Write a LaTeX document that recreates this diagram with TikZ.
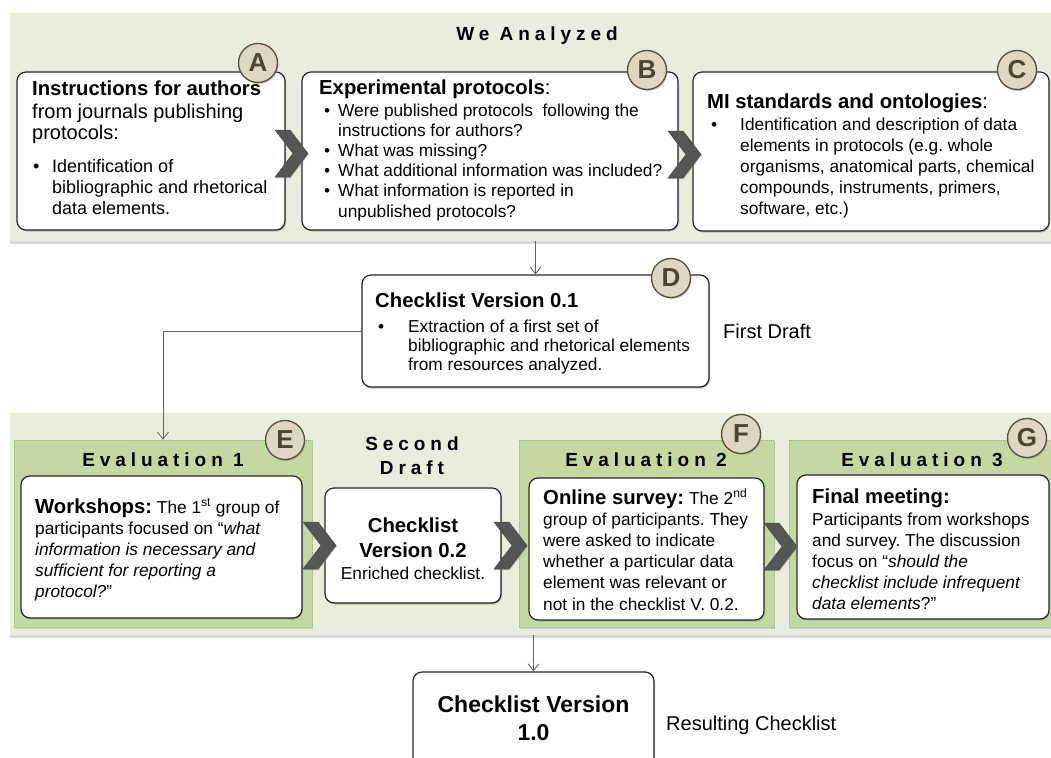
\documentclass[tikz,border=0pt]{standalone}
\usepackage{fontspec}
\setmainfont{Liberation Sans}
\newfontfamily\spacedfont[LetterSpace=26]{Liberation Sans}
\usetikzlibrary{arrows.meta,shadows,fit}
\definecolor{bandc}{RGB}{233,238,220}
\definecolor{panelc}{RGB}{198,216,161}
\definecolor{paneledge}{RGB}{150,175,115}
\definecolor{circfill}{RGB}{222,215,195}
\definecolor{circedge}{RGB}{85,80,62}
\definecolor{circtext}{RGB}{75,68,50}
\definecolor{chevc}{RGB}{85,85,85}
\definecolor{linec}{RGB}{95,95,95}
\newcommand\fs[2]{\fontsize{#1}{#2}\selectfont}
\newcommand\bul[2]{\makebox[#1][l]{\hspace*{#2}•}}
\frenchspacing
\begin{document}
\begin{tikzpicture}[x=1pt,y=-1pt,
  box/.style={draw=black!85, line width=1.2pt, fill=white, rounded corners=9pt, inner sep=0pt,
    drop shadow={shadow xshift=1pt,shadow yshift=-1.5pt,opacity=0.45}},
  bandbox/.style={fill=bandc, inner sep=0pt, draw=none,
    drop shadow={shadow xshift=0pt,shadow yshift=-3pt,opacity=0.3}},
  panel/.style={fill=panelc, inner sep=0pt, draw=paneledge, dash pattern=on 1pt off 1pt, line width=0.6pt,
    drop shadow={shadow xshift=1pt,shadow yshift=-1.5pt,opacity=0.25}},
  badge/.style={circle, fill=circfill, draw=circedge, line width=1.3pt, minimum size=39pt, inner sep=0pt,
    font=\fs{26}{26}\bfseries, text=circtext,
    drop shadow={shadow xshift=1pt,shadow yshift=-1.5pt,opacity=0.4}},
  chevron/.style={fill=chevc, draw=black!70, line width=0.5pt,
    drop shadow={shadow xshift=1pt,shadow yshift=-1pt,opacity=0.35}},
  txt/.style={anchor=base west, inner sep=0pt, align=left},
  ctxt/.style={anchor=base, inner sep=0pt, align=center},
  conn/.style={draw=linec, line width=0.8pt, -{Straight Barb[length=7pt,width=11pt]}},
  sectitle/.style={anchor=base, inner sep=0pt, font=\spacedfont\bfseries\fs{19}{24}, align=center},
  chev/.pic={\path[chevron] (0,0) -- (15,0) -- (33,23.5) -- (15,47) -- (0,47) -- (18,23.5) -- cycle;}
]
\useasboundingbox (0,0) rectangle (1051,757);
\fill[white] (0,0) rectangle (1051,757);

% ---------- bands ----------
\node[bandbox, fit={(10,13) (1060,241)}] (band1) {};
\node[bandbox, fit={(10,413) (1060,635)}] (band2) {};

\node[sectitle] (t1) at (537,41) {We Analyzed};

% ---------- top boxes ----------
\node[box, fit={(17,72) (285,230)}] (boxA) {};
\node[box, fit={(302,72) (678,230)}] (boxB) {};
\node[box, fit={(693,72) (1049,231)}] (boxC) {};

% multi-line text nodes are anchored at the baseline of their LAST line
\node[txt, font=\fs{20.3}{22}\bfseries] (hA) at (32,96) {Instructions for authors};
\node[txt, font=\fs{20}{21.5}] (sA) at (32,139.5) {from journals publishing\\protocols:};
\node[txt, font=\fs{18}{21}] (bA) at (32,214) {\bul{20pt}{1pt}Identification of\\\hspace*{20pt}bibliographic and rhetorical\\\hspace*{20pt}data elements.};

\node[txt, font=\fs{20.3}{22}] (hB) at (319,95) {\textbf{Experimental protocols}:};
\node[txt, font=\fs{17.3}{20.2}] (bB) at (319,217) {\bul{19pt}{5pt}Were published protocols\ \ following the\\\hspace*{19pt}instructions for authors?\\\bul{19pt}{5pt}What was missing?\\\bul{19pt}{5pt}What additional information was included?\\\bul{19pt}{5pt}What information is reported in\\\hspace*{19pt}unpublished protocols?};

\node[txt, font=\fs{20.3}{22}] (hC) at (707,109) {\textbf{MI standards and ontologies}:};
\node[txt, font=\fs{17.3}{21}] (bC) at (707,214) {\bul{33pt}{4pt}Identification and description of data\\\hspace*{33pt}elements in protocols (e.g. whole\\\hspace*{33pt}organisms, anatomical parts, chemical\\\hspace*{33pt}compounds, instruments, primers,\\\hspace*{33pt}software, etc.)};

\pic at (275,130) {chev};
\pic at (668,131) {chev};

\node[badge] (cA) at (258,63) {A};
\node[badge] (cB) at (647,70) {B};
\node[badge] (cC) at (1017,70) {C};

% ---------- first draft ----------
\node[box, fit={(362,275) (709,387)}] (boxD) {};
\node[txt, font=\fs{20.3}{22}\bfseries] (hD) at (375,307) {Checklist Version 0.1};
\node[txt, font=\fs{17.3}{19}] (bD) at (375,370) {\bul{33pt}{3pt}Extraction of a first set of\\\hspace*{33pt}bibliographic and rhetorical elements\\\hspace*{33pt}from resources analyzed.};
\node[badge] (cD) at (671,278) {D};
\node[txt, font=\fs{20}{22}] (fd) at (723,338) {First Draft};

% ---------- evaluation panels ----------
\node[panel, fit={(14,440) (312,627)}] (P1) {};
\node[panel, fit={(519,440) (774,627)}] (P2) {};
\node[panel, fit={(789,440) (1060,627)}] (P3) {};

\node[sectitle] (e1) at (163,466) {Evaluation 1};
\node[sectitle] (e2) at (646,466) {Evaluation 2};
\node[sectitle] (e3) at (922,466) {Evaluation 3};
\node[sectitle] (sd) at (412,474) {Second\\Draft};

\node[box, fit={(21,476) (302,618)}] (boxE) {};
\node[box, fit={(325,488) (501,603)}] (box02) {};
\node[box, fit={(529,478) (764,620)}] (boxF) {};
\node[box, fit={(797,475) (1049,619)}] (boxG) {};

\node[txt, font=\fs{17.3}{21}] (bE) at (35,597) {{\fs{20.3}{21}\bfseries Workshops:} The 1\textsuperscript{st} group of\\participants focused on “\textit{what}\\\textit{information is necessary and}\\\textit{sufficient for reporting a}\\\textit{protocol?}”};

\node[ctxt, font=\fs{20.3}{25}\bfseries] (h02) at (413,557) {Checklist\\Version 0.2};
\node[ctxt, font=\fs{17.3}{21}] (b02) at (413,579) {Enriched checklist.};

\node[txt, font=\fs{17.3}{21.2}] (bF) at (543,610) {{\fs{20.3}{21}\bfseries Online survey:} The 2\textsuperscript{nd}\\group of participants. They\\were asked to indicate\\whether a particular data\\element was relevant or\\not in the checklist V. 0.2.};

\node[txt, font=\fs{20.3}{22}\bfseries] (hG) at (812,503) {Final meeting:};
\node[txt, font=\fs{17.3}{21}] (bG) at (812,609) {Participants from workshops\\and survey. The discussion\\focus on “\textit{should the}\\\textit{checklist include infrequent}\\\textit{data elements}?”};

\pic at (303,522) {chev};
\pic at (494,522) {chev};
\pic at (764,523) {chev};

\node[badge] (cE) at (285,440) {E};
\node[badge] (cF) at (741,434) {F};
\node[badge] (cG) at (1027,438) {G};

% ---------- result ----------
\node[box, fit={(413,672) (654,790)}] (boxK) {};
\node[ctxt, font=\fs{23}{28}\bfseries] (hK) at (533.5,740) {Checklist Version\\1.0};
\node[txt, font=\fs{20}{22}] (rc) at (666,730) {Resulting Checklist};

% ---------- connectors ----------
\draw[conn] (boxD.north |- band1.south) -- (boxD.north);
\draw[conn] (boxD.west) -| (P1.north);
\draw[conn] (boxK.north |- band2.south) -- (boxK.north);
\end{tikzpicture}
\end{document}
